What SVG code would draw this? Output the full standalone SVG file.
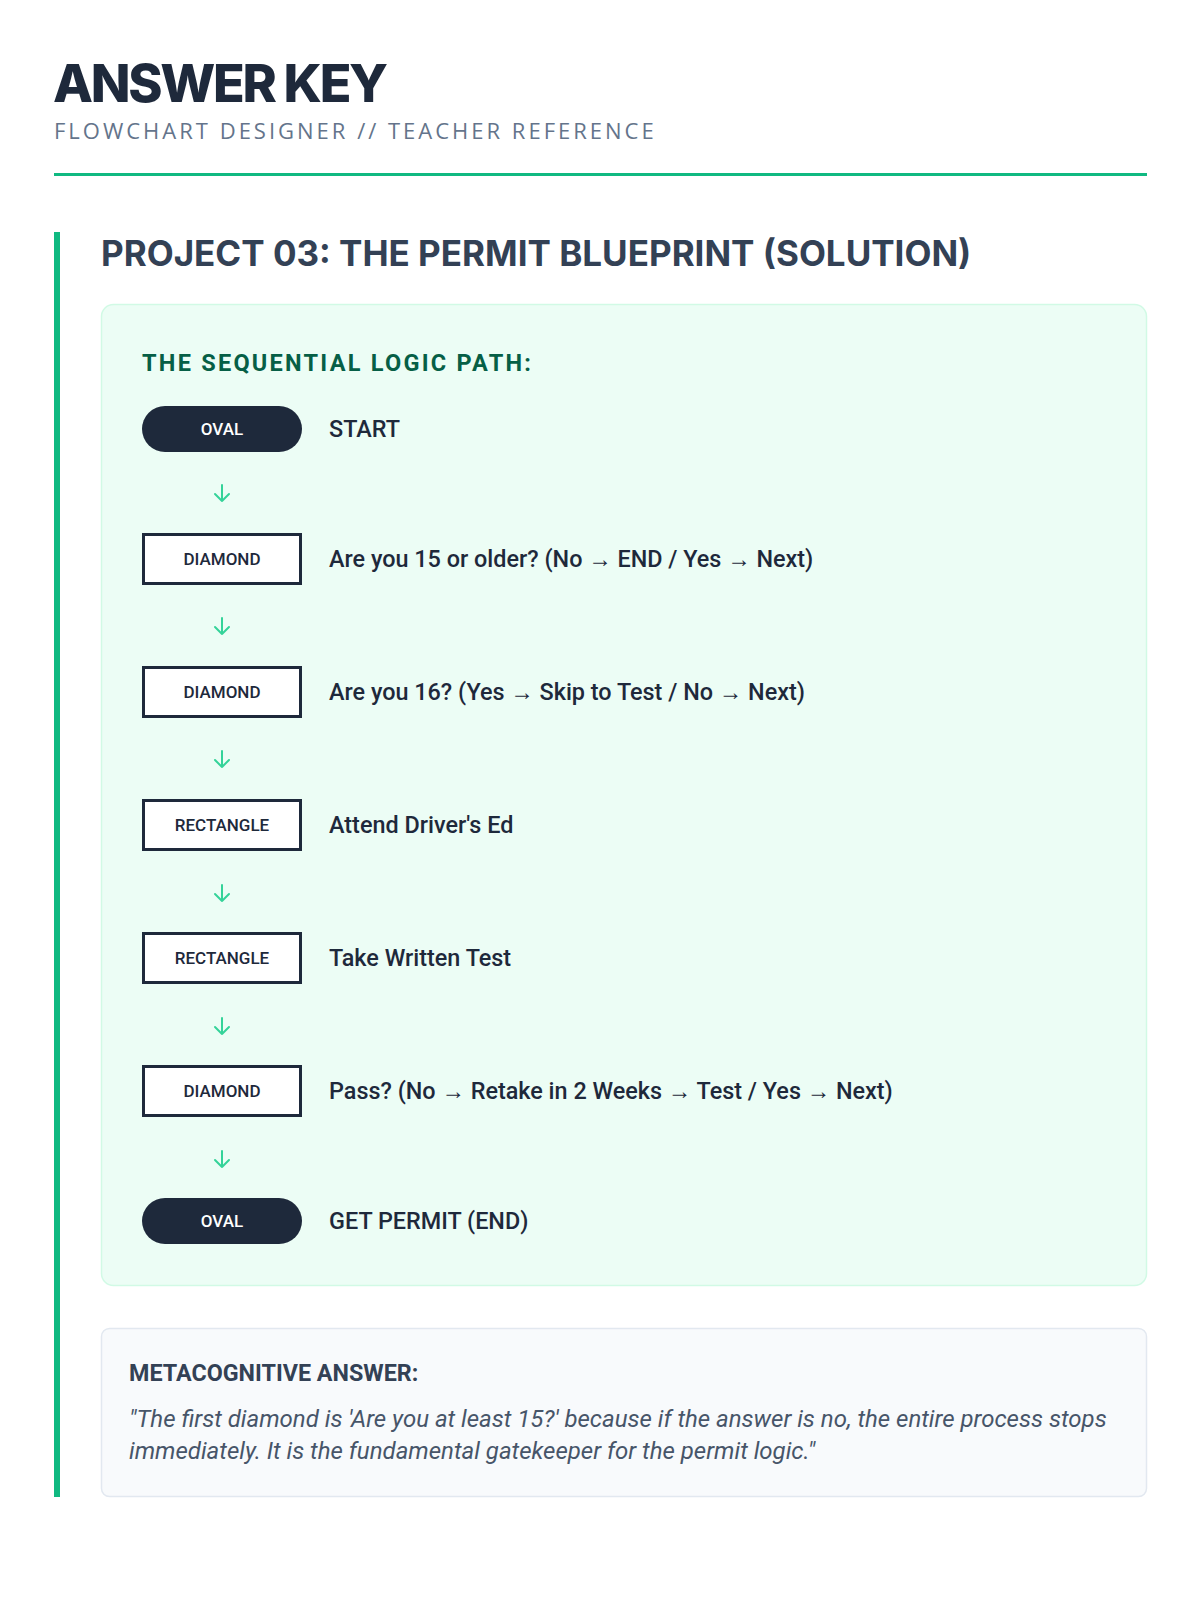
<svg xmlns="http://www.w3.org/2000/svg" width="1200" height="1600" viewBox="0 0 1200 1600">
<style>
.title{font-family:Inter,"Liberation Sans",sans-serif;font-weight:800;font-size:52px;fill:#1e293b;letter-spacing:-2.3px}
.sub{font-family:"Open Sans","Liberation Sans",sans-serif;font-size:22px;fill:#64748b;letter-spacing:3px}
.h2{font-family:Inter,"Liberation Sans",sans-serif;font-weight:700;font-size:35px;fill:#334155}
.path{font-family:Roboto,"Liberation Sans",sans-serif;font-weight:700;font-size:23.5px;fill:#065f46;letter-spacing:2.25px}
.badge{font-family:Roboto,"Liberation Sans",sans-serif;font-weight:500;font-size:17px;text-anchor:middle}
.oval rect{fill:#1e293b}
.oval .badge{fill:#ffffff}
.box rect{fill:#ffffff;stroke:#1e293b;stroke-width:3}
.box .badge{fill:#1e293b}
.step{font-family:Roboto,"Liberation Sans",sans-serif;font-weight:500;font-size:23.4px;fill:#1e293b}
.arrow{fill:none;stroke:#34d399;stroke-width:2;stroke-linecap:round;stroke-linejoin:round}
.meta{font-family:Roboto,"Liberation Sans",sans-serif;font-weight:700;font-size:23.3px;fill:#334155}
.quote{font-family:Roboto,"Liberation Sans",sans-serif;font-style:italic;font-size:24px;fill:#475569}
</style>
<rect x="0" y="0" width="1200" height="1600" fill="#ffffff"/>
<g id="header">
<text class="title" x="53" y="102">ANSWER KEY</text>
<text class="sub" x="54" y="139">FLOWCHART DESIGNER // TEACHER REFERENCE</text>
<rect x="54" y="173" width="1093" height="3" fill="#10b981"/>
</g>
<rect x="54" y="232" width="6" height="1265" fill="#10b981"/>
<text class="h2" x="101" y="266">PROJECT 03: THE PERMIT BLUEPRINT (SOLUTION)</text>
<rect x="101.5" y="304.5" width="1045" height="981" rx="12" fill="#ecfdf5" stroke="#d1fae5" stroke-width="1.5"/>
<text class="path" x="142" y="371">THE SEQUENTIAL LOGIC PATH:</text>
<g id="connectors">
<path class="arrow" d="M222 485V501M215 494L222 501L229 494"/>
<path class="arrow" d="M222 618V634M215 627L222 634L229 627"/>
<path class="arrow" d="M222 751V767M215 760L222 767L229 760"/>
<path class="arrow" d="M222 885V901M215 894L222 901L229 894"/>
<path class="arrow" d="M222 1018V1034M215 1027L222 1034L229 1027"/>
<path class="arrow" d="M222 1151V1167M215 1160L222 1167L229 1160"/>
</g>
<g id="n1" class="oval"><rect x="142" y="406" width="160" height="46" rx="23"/><text class="badge" x="222" y="435">OVAL</text><text class="step" x="329" y="437">START</text></g>
<g id="n2" class="box"><rect x="143.5" y="534.5" width="157" height="49"/><text class="badge" x="222" y="565">DIAMOND</text><text class="step" x="329" y="567">Are you 15 or older? (No → END / Yes → Next)</text></g>
<g id="n3" class="box"><rect x="143.5" y="667.5" width="157" height="49"/><text class="badge" x="222" y="698">DIAMOND</text><text class="step" x="329" y="700">Are you 16? (Yes → Skip to Test / No → Next)</text></g>
<g id="n4" class="box"><rect x="143.5" y="800.5" width="157" height="49"/><text class="badge" x="222" y="831">RECTANGLE</text><text class="step" x="329" y="833">Attend Driver's Ed</text></g>
<g id="n5" class="box"><rect x="143.5" y="933.5" width="157" height="49"/><text class="badge" x="222" y="964">RECTANGLE</text><text class="step" x="329" y="966">Take Written Test</text></g>
<g id="n6" class="box"><rect x="143.5" y="1066.5" width="157" height="49"/><text class="badge" x="222" y="1097">DIAMOND</text><text class="step" x="329" y="1099">Pass? (No → Retake in 2 Weeks → Test / Yes → Next)</text></g>
<g id="n7" class="oval"><rect x="142" y="1198" width="160" height="46" rx="23"/><text class="badge" x="222" y="1227">OVAL</text><text class="step" x="329" y="1229">GET PERMIT (END)</text></g>
<g id="meta">
<rect x="101.5" y="1328.5" width="1045" height="168" rx="8" fill="#f8fafc" stroke="#e2e8f0" stroke-width="1.5"/>
<text class="meta" x="129" y="1381">METACOGNITIVE ANSWER:</text>
<text class="quote" x="129" y="1427">"The first diamond is 'Are you at least 15?' because if the answer is no, the entire process stops</text>
<text class="quote" x="129" y="1459">immediately. It is the fundamental gatekeeper for the permit logic."</text>
</g>
</svg>
